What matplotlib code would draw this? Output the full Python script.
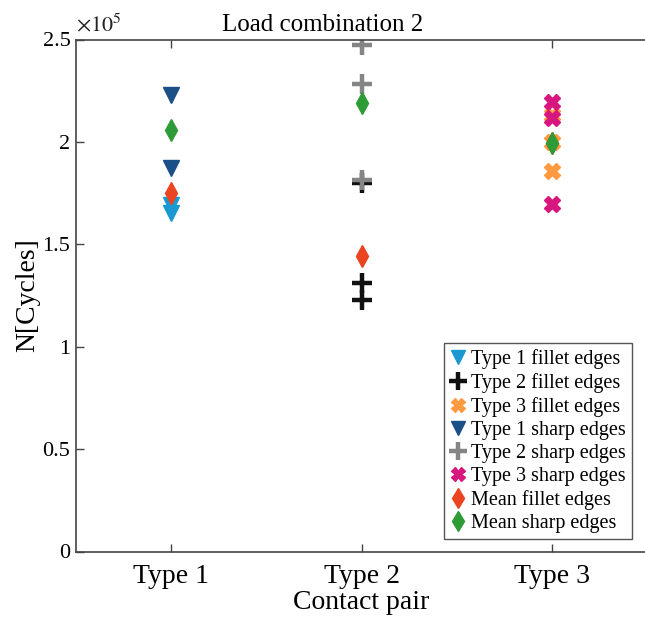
import matplotlib
matplotlib.use("Agg")
import matplotlib.pyplot as plt
from matplotlib.ticker import FuncFormatter

plt.rcParams['font.family'] = ['Liberation Serif', 'DejaVu Serif']
plt.rcParams['mathtext.fontset'] = 'stix'

categories = ["Type 1", "Type 2", "Type 3"]

# values in cycles
type1_fillet = [169200, 165300]
type2_fillet = [179700, 130900, 122600]
type3_fillet = [213100, 200100, 185800]
type1_sharp = [222900, 187200]
type2_sharp = [247100, 228500, 181200]
type3_sharp = [219600, 211500, 169500]
mean_fillet = [175000, 144500, 199700]
mean_sharp = [205800, 218800, 199300]

fig = plt.figure(figsize=(6.45, 6.21), dpi=100)
ax = fig.add_axes([76/645, 1-551.5/621, (647-76)/645, (551.5-39.5)/621])

ms = 11
ax.plot([1]*len(type1_fillet), type1_fillet, 'v', color='#1a98d2', ms=ms, ls='none', label='Type 1 fillet edges')
ax.plot([2]*len(type2_fillet), type2_fillet, '+', color='#111111', ms=14, mew=3.2, ls='none', label='Type 2 fillet edges')
ax.plot([3]*len(type3_fillet), type3_fillet, 'X', color='#ff9a40', mec='#ff9a40', ms=ms, ls='none', label='Type 3 fillet edges')
ax.plot([1]*len(type1_sharp), type1_sharp, 'v', color='#1b4f88', ms=ms, ls='none', label='Type 1 sharp edges')
ax.plot([2]*len(type2_sharp), type2_sharp, '+', color='#858585', ms=14, mew=3.2, ls='none', label='Type 2 sharp edges')
ax.plot([3]*len(type3_sharp), type3_sharp, 'X', color='#d8167f', mec='#d8167f', ms=ms, ls='none', label='Type 3 sharp edges')
ax.plot([1, 2, 3], mean_fillet, 'd', color='#ea4420', ms=ms, ls='none', label='Mean fillet edges')
ax.plot([1, 2, 3], mean_sharp, 'd', color='#2e9c36', ms=ms, ls='none', label='Mean sharp edges')

ax.set_xlim(0.5, 3.5)
ax.set_ylim(0, 250000)
ax.set_xticks([1, 2, 3])
ax.set_xticklabels(categories, fontsize=20)
ax.set_yticks([0, 50000, 100000, 150000, 200000, 250000])
ax.yaxis.set_major_formatter(FuncFormatter(lambda v, p: ('%g' % (v / 1e5))))
ax.tick_params(axis='y', labelsize=16, direction='in', length=6, width=1, color='#444444', pad=4)
ax.tick_params(axis='x', direction='in', length=6, width=1, color='#444444', top=True, pad=9)
for s in ax.spines.values():
    s.set_color('#444444')
    s.set_linewidth(1.2)

ax.text(0.0, 1.005, r'$\times 10^5$', transform=ax.transAxes, fontsize=16, ha='left', va='bottom', color='#222222')
ax.set_title('Load combination 2', fontsize=18, pad=6, x=(323-76)/571)
ax.set_xlabel('Contact pair', fontsize=20, labelpad=1)
ax.set_ylabel('N[Cycles]', fontsize=20, labelpad=2)

leg = ax.legend(loc='upper left', bbox_to_anchor=(444/645, 1-343/621), bbox_transform=fig.transFigure,
                fontsize=14.5, frameon=True, fancybox=False, edgecolor='#555555', framealpha=1,
                handlelength=0.8, handletextpad=0.25, borderpad=0.3, labelspacing=0.2, borderaxespad=0,
                markerscale=0.9)
leg.get_frame().set_linewidth(1.0)

fig.savefig('out.png', dpi=100)
